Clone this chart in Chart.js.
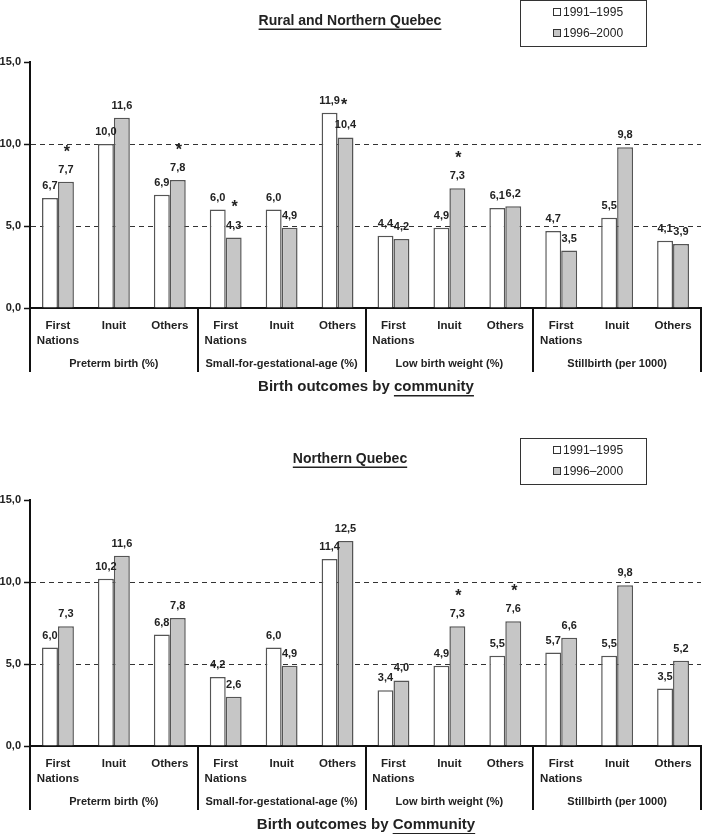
<!DOCTYPE html>
<html>
<head>
<meta charset="utf-8">
<script src="https://cdn.jsdelivr.net/npm/chart.js@4.4.0/dist/chart.umd.min.js"></script>
<style>
  html, body { margin: 0; padding: 0; background: #fff; overflow: hidden; }
  .panel { position: absolute; left: 0; width: 702px; height: 438px; }
</style>
</head>
<body>
<div class="panel" style="top:0"><canvas id="ruralChart"></canvas></div>
<div class="panel" style="top:438px"><canvas id="northChart"></canvas></div>
<script>
const FONT = '"Liberation Sans", Arial, Helvetica, sans-serif';

// categories
const communities = ['First Nations', 'Inuit', 'Others'];
const outcomes = ['Preterm birth (%)', 'Small-for-gestational-age (%)', 'Low birth weight (%)', 'Stillbirth (per 1000)'];
const periods = ['1991\u20131995', '1996\u20132000'];
const yTicks = [0, 5, 10, 15];

// Rural and Northern Quebec
const ruralOld = [6.7, 10.0, 6.9, 6.0, 6.0, 11.9, 4.4, 4.9, 6.1, 4.7, 5.5, 4.1];
const ruralNew = [7.7, 11.6, 7.8, 4.3, 4.9, 10.4, 4.2, 7.3, 6.2, 3.5, 9.8, 3.9];
const ruralOldStars = [0, 0, 0, 0, 0, 1, 0, 0, 0, 0, 0, 0];
const ruralNewStars = [1, 0, 1, 1, 0, 0, 0, 1, 0, 0, 0, 0];

// Northern Quebec
const northOld = [6.0, 10.2, 6.8, 4.2, 6.0, 11.4, 3.4, 4.9, 5.5, 5.7, 5.5, 3.5];
const northNew = [7.3, 11.6, 7.8, 3.0, 4.9, 12.5, 4.0, 7.3, 7.6, 6.6, 9.8, 5.2];
const northOldStars = [0, 0, 0, 0, 0, 0, 0, 0, 0, 0, 0, 0];
const northNewStars = [0, 0, 0, 0, 0, 0, 0, 1, 1, 0, 0, 0];
// printed value differs from the drawn bar in the source
const northNewPrinted = { 3: '2,6' };

const categories = [];
outcomes.forEach(() => communities.forEach(c => categories.push(c)));

function fmt(v) {
  return v.toFixed(1).replace('.', ',');
}

const decor = {
  id: 'decor',
  afterDraw(chart, args, opts) {
    const ctx = chart.ctx;
    const area = chart.chartArea;
    const xs = chart.scales.x;
    ctx.save();

    // title, underlined
    ctx.fillStyle = '#222';
    ctx.font = 'bold 14px ' + FONT;
    ctx.textAlign = 'center';
    ctx.textBaseline = 'middle';
    ctx.fillText(opts.title, 350, 21);
    const tw = ctx.measureText(opts.title).width;
    ctx.fillRect(350 - tw / 2, 28.5, tw, 1.5);

    // legend box
    ctx.strokeStyle = '#333';
    ctx.lineWidth = 1;
    ctx.strokeRect(520.5, 0.5, 126, 46);
    ctx.font = '12px ' + FONT;
    ctx.textAlign = 'left';
    chart.data.datasets.forEach((ds, i) => {
      const ly = 12 + i * 21;
      ctx.fillStyle = ds.backgroundColor;
      ctx.fillRect(553.5, ly - 3.5, 7, 7);
      ctx.strokeStyle = '#333';
      ctx.strokeRect(553.5, ly - 3.5, 7, 7);
      ctx.fillStyle = '#222';
      ctx.fillText(ds.label, 563, ly + 1);
    });

    // value labels and stars
    chart.data.datasets.forEach((ds, i) => {
      const meta = chart.getDatasetMeta(i);
      meta.data.forEach((bar, j) => {
        const txt = (ds.printed && ds.printed[j]) || fmt(ds.data[j]);
        const ly = bar.y - 12;
        ctx.font = 'bold 11px ' + FONT;
        ctx.fillStyle = '#222';
        ctx.textAlign = 'center';
        ctx.textBaseline = 'middle';
        ctx.fillText(txt, bar.x, ly);
        if (!ds.stars[j]) return;
        const lw = ctx.measureText(txt).width;
        ctx.font = 'bold 16px ' + FONT;
        ctx.textBaseline = 'alphabetic';
        if (i === 0) {
          // star right after the label
          ctx.textAlign = 'left';
          ctx.fillText('*', bar.x + lw / 2 + 1, ly + 9);
        } else {
          // star above the label
          ctx.fillText('*', bar.x + 1, ly - 13);
        }
      });
    });

    // group dividers below the axis
    ctx.fillStyle = '#111';
    for (let g = 0; g <= outcomes.length; g++) {
      const px = Math.round(xs.getPixelForValue(g * 3 - 0.5));
      ctx.fillRect(px - 1, area.bottom, 2, 64);
    }
    // group labels
    ctx.font = 'bold 11px ' + FONT;
    ctx.fillStyle = '#222';
    ctx.textAlign = 'center';
    ctx.textBaseline = 'middle';
    outcomes.forEach((o, g) => {
      ctx.fillText(o, xs.getPixelForValue(g * 3 + 1), area.bottom + 56);
    });

    // caption with underlined last word
    ctx.font = 'bold 15px ' + FONT;
    ctx.textAlign = 'left';
    const head = 'Birth outcomes by ';
    const hw = ctx.measureText(head).width;
    const ww = ctx.measureText(opts.word).width;
    const cx = 366 - (hw + ww) / 2;
    ctx.fillText(head, cx, 387);
    ctx.fillText(opts.word, cx + hw, 387);
    ctx.fillRect(cx + hw, 395, ww, 1.5);

    ctx.restore();
  }
};

function makeChart(id, title, word, oldVals, newVals, oldStars, newStars, newPrinted) {
  const ctx = document.getElementById(id).getContext('2d');
  return new Chart(ctx, {
    type: 'bar',
    data: {
      labels: categories,
      datasets: [{
        label: periods[0],
        data: oldVals,
        stars: oldStars,
        backgroundColor: '#ffffff',
        borderColor: '#555555',
        borderWidth: 1.5,
        categoryPercentage: 0.57,
        barPercentage: 1
      }, {
        label: periods[1],
        data: newVals,
        stars: newStars,
        printed: newPrinted,
        backgroundColor: '#c6c6c6',
        borderColor: '#555555',
        borderWidth: 1.5,
        categoryPercentage: 0.57,
        barPercentage: 1
      }]
    },
    options: {
      responsive: true,
      maintainAspectRatio: false,
      animation: false,
      layout: { padding: { top: 62, right: 1, left: 0, bottom: 0 } },
      scales: {
        x: {
          grid: { display: false, drawTicks: false },
          border: { display: true, color: '#111', width: 2 },
          ticks: {
            autoSkip: false,
            maxRotation: 0,
            padding: 10,
            color: '#222',
            font: { family: FONT, size: 11.5, weight: 'bold', lineHeight: 1.3 },
            callback: function (value) {
              return this.getLabelForValue(value).split(' ');
            }
          },
          afterFit: s => { s.height = 130; }
        },
        y: {
          min: 0,
          max: 15,
          afterBuildTicks: s => { s.ticks = yTicks.map(v => ({ value: v })); },
          grid: {
            color: c => (c.tick && (c.tick.value === 5 || c.tick.value === 10)) ? '#333' : 'rgba(0,0,0,0)',
            lineWidth: 1,
            drawTicks: true,
            tickLength: 6,
            tickColor: '#111',
            tickWidth: 1.5
          },
          border: { display: true, color: '#111', width: 2, dash: [5, 4] },
          ticks: {
            padding: 3,
            color: '#222',
            font: { family: FONT, size: 11, weight: 'bold' },
            callback: v => fmt(v)
          },
          afterFit: s => { s.width = 30; }
        }
      },
      plugins: {
        legend: { display: false },
        tooltip: { enabled: false },
        decor: { title: title, word: word }
      }
    },
    plugins: [decor]
  });
}

makeChart('ruralChart', 'Rural and Northern Quebec', 'community',
  ruralOld, ruralNew, ruralOldStars, ruralNewStars, null);
makeChart('northChart', 'Northern Quebec', 'Community',
  northOld, northNew, northOldStars, northNewStars, northNewPrinted);
</script>
</body>
</html>
